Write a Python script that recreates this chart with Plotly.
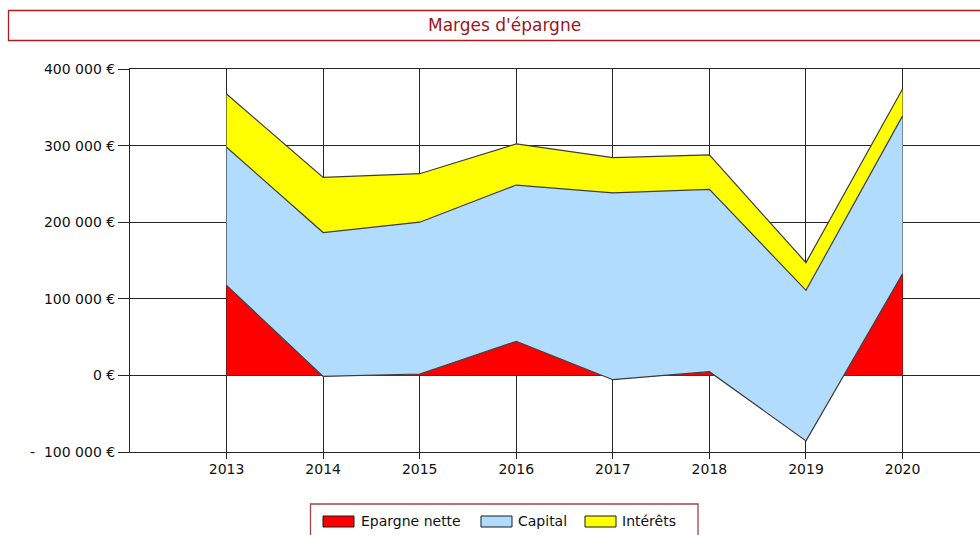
import plotly.graph_objects as go

# ---- data ----
years = [2013, 2014, 2015, 2016, 2017, 2018, 2019, 2020]
epargne_nette = [117500, -1300, 1800, 44500, -5600, 4800, -85500, 132800]
capital = [180300, 187800, 198200, 204000, 244000, 238000, 196500, 206000]
interets = [69500, 72000, 63300, 53700, 45900, 45000, 36200, 35000]
series_names = ["Epargne nette", "Capital", "Intérêts"]
series_colors = ["#FF0000", "#B2DCFD", "#FFFF00"]
title_text = "Marges d'épargne"
y_tickvals = [-100000, 0, 100000, 200000, 300000, 400000]
y_ticktext = ["-\u00a0\u00a0100\u00a0000\u00a0€", "0\u00a0€", "100\u00a0000\u00a0€",
              "200\u00a0000\u00a0€", "300\u00a0000\u00a0€", "400\u00a0000\u00a0€"]

W, H = 980, 535
L, R, T, B = 130, 0, 69, 83
PW, PH = W - L - R, H - T - B

def px(x):
    return (x - L) / PW

def py(y):
    return (H - B - y) / PH

FONT = "DejaVu Sans"
GRID = "#262626"
OUTLINE = "#3c3c3c"

fig = go.Figure()
for name, vals, col in zip(series_names, [epargne_nette, capital, interets], series_colors):
    fig.add_trace(go.Scatter(
        x=years, y=vals, name=name, mode="lines", stackgroup="one",
        line=dict(color=OUTLINE, width=1.2), fillcolor=col, showlegend=False,
    ))

shapes = []
annotations = []

# title box
shapes.append(dict(type="rect", xref="paper", yref="paper",
                   x0=px(8.5), x1=px(1001), y0=py(40.5), y1=py(10.5),
                   line=dict(color="#B01C1C", width=1.3), fillcolor="rgba(0,0,0,0)"))
annotations.append(dict(text=title_text, xref="paper", yref="paper",
                        x=px(504.5), y=py(25.5), showarrow=False,
                        xanchor="center", yanchor="middle",
                        font=dict(family=FONT, size=17, color="#A0141C")))

# legend box
shapes.append(dict(type="rect", xref="paper", yref="paper",
                   x0=px(310.5), x1=px(698), y0=py(545), y1=py(504),
                   line=dict(color="#A84444", width=1.3), fillcolor="white"))
sw_x = [323, 481, 585]
txt_x = [359, 516, 620]
for name, col, sx, tx in zip(series_names, series_colors, sw_x, txt_x):
    shapes.append(dict(type="rect", xref="paper", yref="paper",
                       x0=px(sx), x1=px(sx + 31), y0=py(527), y1=py(516),
                       line=dict(color="#1a1a1a", width=1), fillcolor=col))
    annotations.append(dict(text=name, xref="paper", yref="paper",
                            x=px(tx), y=py(521), showarrow=False,
                            xanchor="left", yanchor="middle",
                            font=dict(family=FONT, size=14, color="#111111")))

fig.update_layout(
    width=W, height=H,
    margin=dict(l=L, r=R, t=T, b=B, pad=0),
    paper_bgcolor="white", plot_bgcolor="white",
    font=dict(family=FONT, size=14, color="#111111"),
    showlegend=False,
    shapes=shapes, annotations=annotations,
    xaxis=dict(range=[2012, 2012 + PW / 96.57], tickmode="array", tickvals=years,
               ticktext=[str(y) for y in years],
               showgrid=True, gridcolor=GRID, gridwidth=1,
               showline=True, linecolor=GRID, linewidth=1, mirror=True,
               ticks="outside", ticklen=6, tickcolor=GRID, tickwidth=1,
               ticklabelstandoff=-2,
               zeroline=False, fixedrange=True),
    yaxis=dict(range=[-100000, 400000], tickmode="array", tickvals=y_tickvals,
               ticktext=y_ticktext,
               showgrid=True, gridcolor=GRID, gridwidth=1,
               zeroline=True, zerolinecolor=GRID, zerolinewidth=1,
               showline=True, linecolor=GRID, linewidth=1,
               ticks="outside", ticklen=11, tickcolor=GRID, tickwidth=1,
               fixedrange=True),
)

fig.write_html("out.html", config={"displayModeBar": False},
               post_script="document.body.style.margin='0';document.body.style.overflow='hidden';")
